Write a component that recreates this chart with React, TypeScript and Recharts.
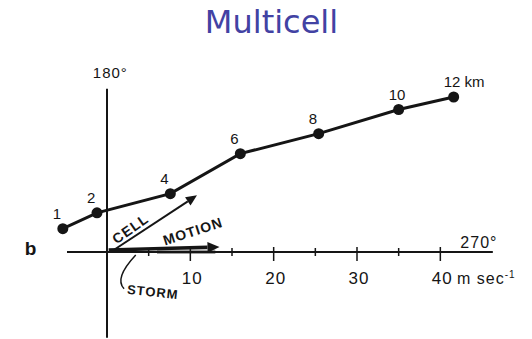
import {
  ComposedChart,
  Scatter,
  XAxis,
  YAxis,
  ReferenceLine,
  ReferenceArea,
} from 'recharts';

// hodograph: wind at each height (m/s), u to the right, v up the 180° axis
const heightLabels = ['1', '2', '4', '6', '8', '10', '12 km'];
const uWind = [-5.3, -1.2, 7.6, 16.0, 25.4, 35.0, 41.6];
const vWind = [2.8, 4.7, 7.0, 11.8, 14.2, 17.1, 18.6];

const majorTicks = [10, 20, 30, 40];
const minorTicks = [5, 15, 25, 35];
const speedUnit = 'm sec';

const cellMotion = { u: 10.8, v: 6.8 };
const stormMotion = { u: 13.5, v: 0.6 };

const INK = '#151515';
const FONT = '"Liberation Sans", Arial, sans-serif';

const hodograph = heightLabels.map((h, i) => ({ u: uWind[i], v: vWind[i], h }));
const majorData = majorTicks.map((t) => ({ u: t, v: 0, label: String(t) }));
const minorData = minorTicks.map((t) => ({ u: t, v: 0 }));

const HeightDot = (p: any) => (
  <g>
    <circle cx={p.cx} cy={p.cy} r={5.5} fill={INK} />
    <text x={p.cx - 10} y={p.cy - 10} fontSize={15} fontFamily={FONT} fill={INK}>
      {p.payload.h}
    </text>
  </g>
);

const MajorTick = (p: any) => (
  <g>
    <line x1={p.cx} x2={p.cx} y1={p.cy - 5} y2={p.cy + 9} stroke={INK} strokeWidth={1.5} />
    <text
      x={p.cx + 2}
      y={p.cy + 32}
      textAnchor="middle"
      fontSize={17}
      fontFamily={FONT}
      fill={INK}
      letterSpacing={1}
    >
      {p.payload.label}
    </text>
  </g>
);

const MinorTick = (p: any) => (
  <line x1={p.cx} x2={p.cx} y1={p.cy - 4} y2={p.cy + 4} stroke={INK} strokeWidth={1.5} />
);

const arrowShape = (head: number, width: number) => (p: any) => {
  const { x1, y1, x2, y2 } = p;
  const a = Math.atan2(y2 - y1, x2 - x1);
  const c = Math.cos(a);
  const s = Math.sin(a);
  const bx = x2 - head * c;
  const by = y2 - head * s;
  const w = head * 0.45;
  return (
    <g>
      <line x1={x1} y1={y1} x2={bx} y2={by} stroke={INK} strokeWidth={width} />
      <polygon
        points={`${x2},${y2} ${bx - s * w},${by + c * w} ${bx + s * w},${by - c * w}`}
        fill={INK}
      />
    </g>
  );
};

// the "(" leader from STORM up to the storm motion arrow
const LeaderCurve = (p: any) => {
  const { x1, y1, x2, y2 } = p;
  return (
    <path
      d={`M${x1},${y1} C${x1 - 6},${y1 - 6} ${x1 - 4},${y1 - 17} ${x2},${y2}`}
      fill="none"
      stroke={INK}
      strokeWidth={1.5}
    />
  );
};

const AxisLine = (p: any) => (
  <line x1={p.x1} y1={p.y1} x2={p.x2} y2={p.y2} stroke={INK} strokeWidth={2} />
);

type Note = {
  u: number;
  v: number;
  text: string;
  angle?: number;
  size?: number;
  bold?: boolean;
  anchor?: 'start' | 'middle' | 'end';
  sup?: string;
};

const noteShape = (n: Note) => (p: any) => (
  <text
    x={p.cx}
    y={p.cy}
    transform={n.angle ? `rotate(${n.angle} ${p.cx} ${p.cy})` : undefined}
    textAnchor={n.anchor ?? 'middle'}
    dominantBaseline={n.angle !== undefined ? 'central' : undefined}
    fontSize={n.size ?? 15}
    fontWeight={n.bold ? 700 : 400}
    fontFamily={FONT}
    fill={INK}
    letterSpacing={1}
  >
    {n.text}
    {n.sup && (
      <tspan dy={-6} fontSize={10}>
        {n.sup}
      </tspan>
    )}
  </text>
);

export default function App() {
  const notes: Note[] = [
    { u: 0.4, v: 20.9, text: '180°', size: 15 },
    { u: 42.4, v: 0.5, text: '270°', size: 16, anchor: 'start' },
    { u: -9.1, v: -0.36, text: 'b', size: 19, bold: true },
    { u: 42.0, v: -3.84, text: speedUnit, size: 16, anchor: 'start', sup: '-1' },
    { u: 2.8, v: 2.8, text: 'CELL', size: 14, bold: true, angle: -35 },
    { u: 10.3, v: 2.5, text: 'MOTION', size: 14, bold: true, angle: -18 },
    { u: 5.5, v: -4.8, text: 'STORM', size: 13, bold: true, angle: 6 },
  ];

  return (
    <div style={{ position: 'relative', width: 532, height: 339, background: '#fff' }}>
      <style>{'body{margin:0}'}</style>
      <div
        style={{
          position: 'absolute',
          top: 6,
          left: 0,
          width: 532,
          paddingLeft: 11,
          boxSizing: 'border-box',
          textAlign: 'center',
          fontFamily: '"DejaVu Sans", sans-serif',
          fontSize: 32,
          lineHeight: '32px',
          color: '#4242a3',
        }}
      >
        Multicell
      </div>
      <ComposedChart width={532} height={339} margin={{ top: 0, right: 0, bottom: 0, left: 0 }}>
        <XAxis type="number" dataKey="u" domain={[-12.84, 51]} hide allowDataOverflow />
        <YAxis type="number" dataKey="v" domain={[-10.44, 30.24]} hide allowDataOverflow />

        {/* grey smear under the storm motion shaft */}
        <ReferenceArea x1={6} x2={13} y1={-0.25} y2={0.3} fill="#8a8a8a" fillOpacity={0.8} stroke="none" />

        <ReferenceLine
          segment={[{ x: -4.8, y: 0 }, { x: 46.3, y: 0 }]}
          shape={AxisLine}
          ifOverflow="visible"
        />
        <ReferenceLine
          segment={[{ x: 0, y: -10.3 }, { x: 0, y: 19.6 }]}
          shape={AxisLine}
          ifOverflow="visible"
        />

        <ReferenceLine
          segment={[{ x: 0.9, y: 0.3 }, { x: cellMotion.u, y: cellMotion.v }]}
          shape={arrowShape(11, 2)}
          ifOverflow="visible"
        />
        <ReferenceLine
          segment={[{ x: 0.2, y: 0.25 }, { x: stormMotion.u, y: stormMotion.v }]}
          shape={arrowShape(12, 3.5)}
          ifOverflow="visible"
        />
        <ReferenceLine
          segment={[{ x: 2.05, y: -4.4 }, { x: 3.45, y: -0.35 }]}
          shape={LeaderCurve}
          ifOverflow="visible"
        />

        <Scatter data={minorData} shape={MinorTick} isAnimationActive={false} />
        <Scatter data={majorData} shape={MajorTick} isAnimationActive={false} />

        <Scatter
          data={hodograph}
          shape={HeightDot}
          line={{ stroke: INK, strokeWidth: 3 }}
          isAnimationActive={false}
        />

        {notes.map((n) => (
          <Scatter
            key={n.text}
            data={[{ u: n.u, v: n.v }]}
            shape={noteShape(n)}
            isAnimationActive={false}
          />
        ))}
      </ComposedChart>
    </div>
  );
}
